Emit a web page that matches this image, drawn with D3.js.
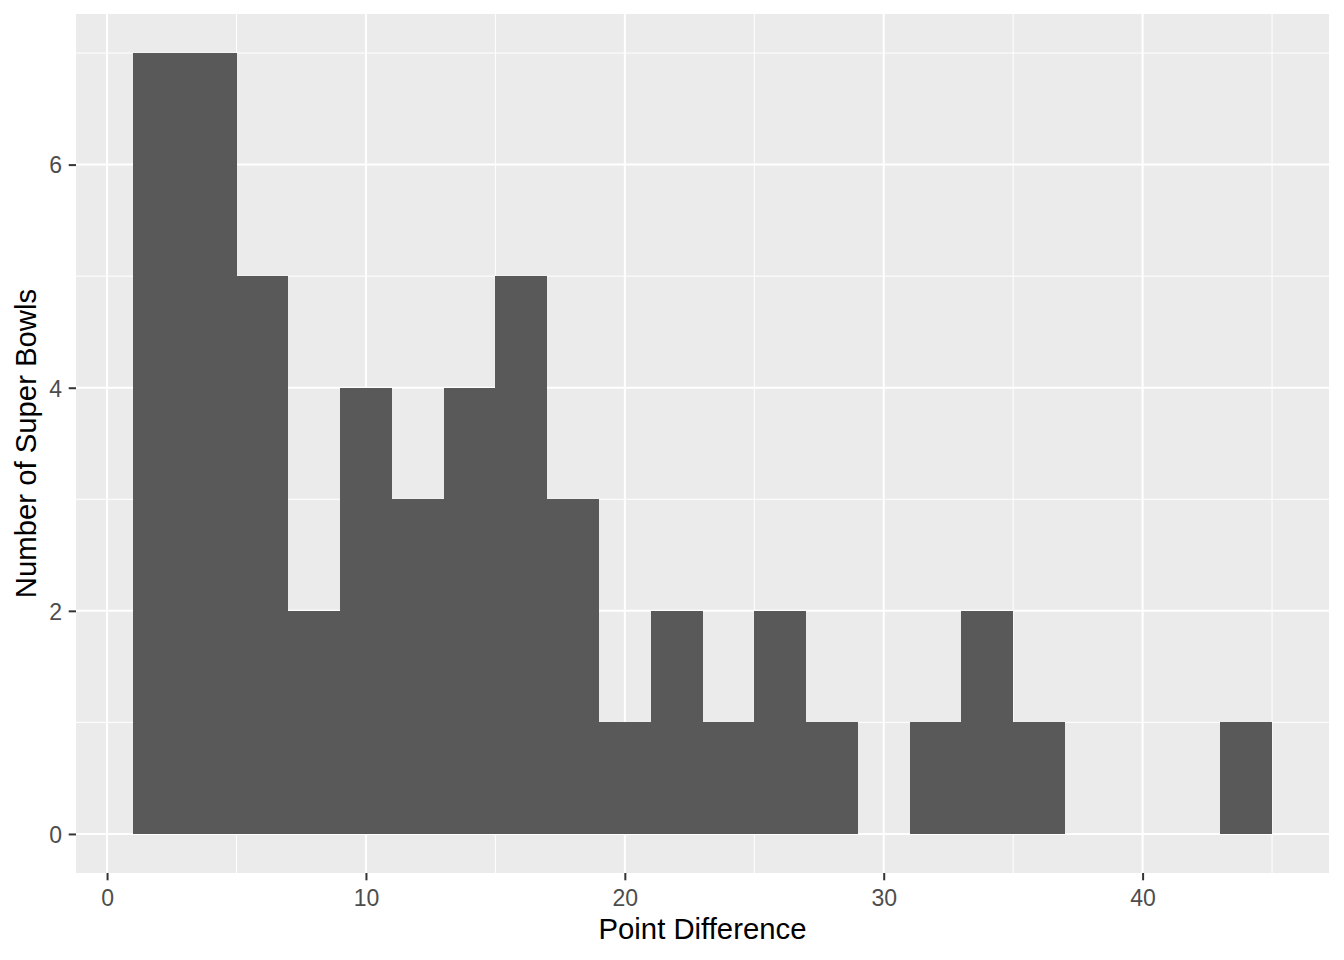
<!DOCTYPE html>
<html>
<head>
<meta charset="utf-8">
<script src="https://cdn.jsdelivr.net/npm/d3@7"></script>
<style>
  html, body { margin: 0; padding: 0; background: #ffffff; }
  svg { display: block; }
</style>
</head>
<body>
<svg id="chart" width="1344" height="960"></svg>
<script>
// Histogram bins (binwidth 2) and counts
const binStart = [1, 3, 5, 7, 9, 11, 13, 15, 17, 19, 21, 23, 25, 27, 29, 31, 33, 35, 37, 39, 41, 43];
const binEnd   = [3, 5, 7, 9, 11, 13, 15, 17, 19, 21, 23, 25, 27, 29, 31, 33, 35, 37, 39, 41, 43, 45];
const counts   = [7, 7, 5, 2, 4, 3, 4, 5, 3, 1, 2, 1, 2, 1, 0, 1, 2, 1, 0, 0, 0, 1];

const xMajor = [0, 10, 20, 30, 40];
const xMinor = [5, 15, 25, 35, 45];
const yMajor = [0, 2, 4, 6];
const yMinor = [1, 3, 5, 7];

const xTitle = "Point Difference";
const yTitle = "Number of Super Bowls";

const panel = { left: 76, right: 1329, top: 14, bottom: 873 };

const svg = d3.select("#chart");

// ggplot-style 5% expansion
const xmin = d3.min(binStart), xmax = d3.max(binEnd);
const xpad = (xmax - xmin) * 0.05;
const ymax = d3.max(counts);
const ypad = ymax * 0.05;

const x = d3.scaleLinear().domain([xmin - xpad, xmax + xpad]).range([panel.left, panel.right]);
const y = d3.scaleLinear().domain([0 - ypad, ymax + ypad]).range([panel.bottom, panel.top]);

// Panel background
svg.append("rect")
  .attr("x", panel.left).attr("y", panel.top)
  .attr("width", panel.right - panel.left).attr("height", panel.bottom - panel.top)
  .attr("fill", "#EBEBEB");

const grid = svg.append("g");
// minor grid
grid.selectAll(".xmin").data(xMinor).enter().append("line")
  .attr("x1", d => x(d)).attr("x2", d => x(d))
  .attr("y1", panel.top).attr("y2", panel.bottom)
  .attr("stroke", "#ffffff").attr("stroke-width", 1);
grid.selectAll(".ymin").data(yMinor).enter().append("line")
  .attr("y1", d => y(d)).attr("y2", d => y(d))
  .attr("x1", panel.left).attr("x2", panel.right)
  .attr("stroke", "#ffffff").attr("stroke-width", 1);
// major grid
grid.selectAll(".xmaj").data(xMajor).enter().append("line")
  .attr("x1", d => x(d)).attr("x2", d => x(d))
  .attr("y1", panel.top).attr("y2", panel.bottom)
  .attr("stroke", "#ffffff").attr("stroke-width", 2);
grid.selectAll(".ymaj").data(yMajor).enter().append("line")
  .attr("y1", d => y(d)).attr("y2", d => y(d))
  .attr("x1", panel.left).attr("x2", panel.right)
  .attr("stroke", "#ffffff").attr("stroke-width", 2);

// Bars
const bins = binStart.map((s, i) => ({ x0: s, x1: binEnd[i], n: counts[i] }));
svg.append("g").selectAll("rect").data(bins).enter().append("rect")
  .attr("x", d => x(d.x0))
  .attr("width", d => x(d.x1) - x(d.x0))
  .attr("y", d => y(d.n))
  .attr("height", d => y(0) - y(d.n))
  .attr("fill", "#595959")
  .attr("shape-rendering", "crispEdges");

// Axes
const tickFont = "Liberation Sans, Arial, sans-serif";
const xAxis = d3.axisBottom(x).tickValues(xMajor).tickSize(7.3).tickPadding(6).tickFormat(d3.format("d"));
const gx = svg.append("g").attr("transform", `translate(0,${panel.bottom})`).call(xAxis);
gx.select(".domain").remove();
gx.selectAll(".tick line").attr("stroke", "#333333").attr("stroke-width", 2);
gx.selectAll(".tick text").attr("fill", "#4D4D4D")
  .style("font-family", tickFont).style("font-size", "23px")
  .attr("dy", null).attr("y", 33);

const yAxis = d3.axisLeft(y).tickValues(yMajor).tickSize(7.3).tickPadding(6).tickFormat(d3.format("d"));
const gy = svg.append("g").attr("transform", `translate(${panel.left},0)`).call(yAxis);
gy.select(".domain").remove();
gy.selectAll(".tick line").attr("stroke", "#333333").attr("stroke-width", 2);
gy.selectAll(".tick text").attr("fill", "#4D4D4D")
  .style("font-family", tickFont).style("font-size", "23px")
  .attr("x", -14).attr("dy", "0.36em");

// Axis titles
svg.append("text")
  .attr("x", (panel.left + panel.right) / 2).attr("y", 939)
  .attr("text-anchor", "middle")
  .style("font-family", tickFont).style("font-size", "29.3px")
  .attr("fill", "#000000")
  .text(xTitle);

svg.append("text")
  .attr("transform", `translate(36,${(panel.top + panel.bottom) / 2}) rotate(-90)`)
  .attr("text-anchor", "middle")
  .style("font-family", tickFont).style("font-size", "29.3px")
  .attr("fill", "#000000")
  .text(yTitle);
</script>
</body>
</html>
